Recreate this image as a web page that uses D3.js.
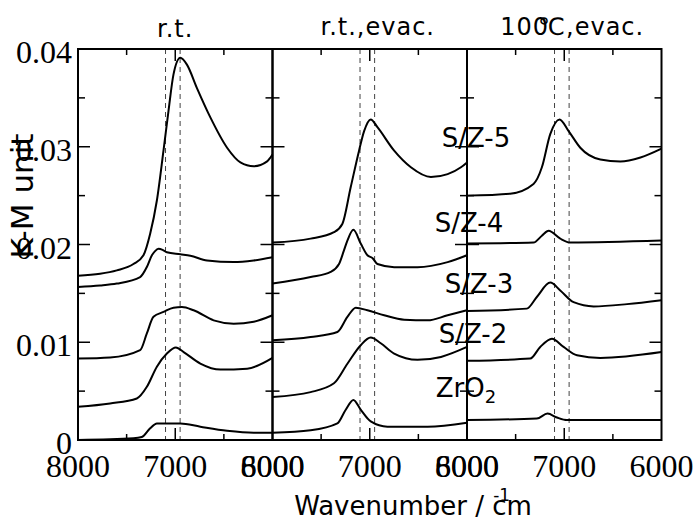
<!DOCTYPE html>
<meta charset="utf-8">
<style>
    body { margin: 0; background: #fff; }
    .curve { fill: none; stroke: #000; stroke-width: 2px; }
    .frame { stroke: #000; stroke-width: 2px; }
    .tick { stroke: #000; stroke-width: 1.5px; }
    .dash { stroke: #444; stroke-width: 1px; stroke-dasharray: 5,4; }
</style>
<svg width="696" height="520"></svg>
<script src="https://cdn.jsdelivr.net/npm/d3@7"></script>
<script>

    // wavenumber (cm-1), K-M value
    var rt_SZ5 = [[8000,0.0168],[7773,0.0170],[7601,0.01735],[7430,0.0180],[7327,0.0189],[7258,0.0211],[7189,0.0245],[7121,0.0296],[7069,0.0337],[7018,0.0374],[6948,0.0391],[6880,0.0384],[6777,0.0360],[6639,0.0330],[6467,0.0299],[6330,0.0284],[6193,0.0280],[6055,0.0285],[6021,0.0289],[6000,0.0292]];
    var rt_SZ4 = [[8000,0.01565],[7773,0.0158],[7601,0.0160],[7361,0.01667],[7292,0.0177],[7240,0.0189],[7210,0.0193],[7172,0.01956],[7130,0.01945],[7086,0.0192],[6948,0.0190],[6845,0.01885],[6673,0.01837],[6399,0.0182],[6193,0.01837],[6000,0.0187]];
    var rt_SZ3 = [[8000,0.00833],[7670,0.00844],[7361,0.0092],[7292,0.0109],[7224,0.0126],[7121,0.0131],[7018,0.01354],[6931,0.0136],[6811,0.01327],[6605,0.01224],[6399,0.0119],[6193,0.0121],[6000,0.01276]];
    var rt_SZ2 = [[8000,0.0034],[7670,0.00374],[7395,0.00425],[7292,0.00544],[7189,0.0075],[7086,0.00884],[6993,0.00946],[6914,0.0090],[6742,0.00782],[6536,0.0072],[6261,0.0073],[6000,0.0084]];
    var rt_ZrO2 = [[8000,0.0],[7430,0.00017],[7344,0.0003],[7258,0.0012],[7189,0.0017],[6948,0.0017],[6742,0.00136],[6467,0.00095],[6193,0.00075],[6000,0.00075]];

    var ev_SZ5 = [[8000,0.0202],[7608,0.0206],[7368,0.02126],[7282,0.0221],[7196,0.02585],[7110,0.0296],[7058,0.0316],[6990,0.0328],[6921,0.0320],[6749,0.0296],[6577,0.0279],[6371,0.0269],[6199,0.0272],[6062,0.0279],[6000,0.0284]];
    var ev_SZ4 = [[8000,0.0160],[7608,0.01667],[7402,0.0172],[7316,0.0180],[7265,0.0194],[7230,0.0204],[7168,0.0215],[7093,0.0201],[7024,0.0189],[6970,0.0186],[6921,0.0180],[6749,0.01768],[6509,0.01768],[6199,0.0182],[6000,0.0189]];
    var ev_SZ3 = [[8000,0.0102],[7608,0.01054],[7333,0.01105],[7230,0.0126],[7144,0.01354],[7024,0.01327],[6852,0.01276],[6646,0.0123],[6405,0.01224],[6199,0.01276],[6000,0.01327]];
    var ev_SZ2 = [[8000,0.0044],[7608,0.0049],[7368,0.0058],[7230,0.0078],[7093,0.0097],[6990,0.01048],[6887,0.0099],[6749,0.00884],[6509,0.0082],[6268,0.0085],[6000,0.00952]];
    var ev_ZrO2 = [[8000,0.00075],[7608,0.0010],[7333,0.0017],[7247,0.0031],[7168,0.0041],[7093,0.0031],[6990,0.0019],[6818,0.00136],[6405,0.00136],[6000,0.00177]];

    var hc_SZ5 = [[8000,0.0250],[7557,0.0252],[7316,0.0262],[7230,0.0279],[7144,0.0313],[7048,0.0328],[6955,0.0316],[6835,0.0299],[6629,0.0287],[6423,0.0285],[6216,0.0289],[6000,0.0298]];
    var hc_SZ4 = [[8000,0.0201],[7316,0.0202],[7230,0.0209],[7161,0.0214],[7041,0.0206],[6938,0.0202],[6000,0.0204]];
    var hc_SZ3 = [[8000,0.0132],[7385,0.01344],[7282,0.01463],[7144,0.0161],[7041,0.0153],[6904,0.0141],[6698,0.01367],[6354,0.0139],[6000,0.0143]];
    var hc_SZ2 = [[8000,0.0081],[7350,0.00833],[7247,0.00952],[7127,0.01037],[7007,0.00952],[6869,0.00867],[6629,0.0084],[6000,0.0090]];
    var hc_ZrO2 = [[8000,0.00204],[7282,0.0022],[7172,0.0027],[7075,0.0023],[6972,0.00204],[6000,0.00204]];

    var titles = ["r.t.", "r.t.,evac.", "100℃,evac."];
    var panelSeries = [
        [rt_SZ5, rt_SZ4, rt_SZ3, rt_SZ2, rt_ZrO2],
        [ev_SZ5, ev_SZ4, ev_SZ3, ev_SZ2, ev_ZrO2],
        [hc_SZ5, hc_SZ4, hc_SZ3, hc_SZ2, hc_ZrO2]
    ];
    var dashLines = [7100, 6950];
    var xTickLabels = [8000, 7000, 6000];
    var xTicks = [7500, 7000, 6500];
    var yTickLabels = [0, 0.01, 0.02, 0.03, 0.04];
    var yTicks = [0.005, 0.01, 0.015, 0.02, 0.025, 0.03, 0.035];
    var sampleNames = ["S/Z-5", "S/Z-4", "S/Z-3", "S/Z-2", "ZrO"];

    var SERIF = "'Liberation Serif', 'Times New Roman', Times, 'DejaVu Serif', serif";
    var SANS = "'DejaVu Sans', Verdana, sans-serif";

    draw();

    function draw() {
        var svg = d3.select("svg");
        var plotTop = 49, plotBottom = 440, left0 = 78, pw = 194.5;

        var y = d3.scaleLinear().domain([0, 0.04]).range([plotBottom, plotTop]);

        panelSeries.forEach(function (series, i) {
            var x0 = left0 + i * pw;
            var x = d3.scaleLinear().domain([8000, 6000]).range([x0, x0 + pw]);
            var g = svg.append("g");

            g.selectAll("line.dash")
                .data(dashLines)
                .enter().append("line")
                .attr("class", "dash")
                .attr("x1", function (d) { return x(d); })
                .attr("x2", function (d) { return x(d); })
                .attr("y1", plotTop)
                .attr("y2", plotBottom);

            var line = d3.line()
                .x(function (d) { return x(d[0]); })
                .y(function (d) { return y(d[1]); })
                .curve(d3.curveMonotoneX);

            g.selectAll("path.curve")
                .data(series)
                .enter().append("path")
                .attr("class", "curve")
                .attr("d", line);

            // frame
            g.append("rect")
                .attr("x", x0).attr("y", plotTop)
                .attr("width", pw).attr("height", plotBottom - plotTop)
                .attr("fill", "none")
                .attr("class", "frame");

            // x ticks, top and bottom, inward
            xTicks.forEach(function (t) {
                var len = t === 7000 ? 12 : 6;
                g.append("line").attr("class", "tick")
                    .attr("x1", x(t)).attr("x2", x(t))
                    .attr("y1", plotBottom).attr("y2", plotBottom - len);
                g.append("line").attr("class", "tick")
                    .attr("x1", x(t)).attr("x2", x(t))
                    .attr("y1", plotTop).attr("y2", plotTop + len);
            });

            // y ticks, both sides, inward
            yTicks.forEach(function (t) {
                var len = Math.round(t * 1000) % 10 === 0 ? 12 : 7;
                g.append("line").attr("class", "tick")
                    .attr("x1", x0).attr("x2", x0 + len)
                    .attr("y1", y(t)).attr("y2", y(t));
                g.append("line").attr("class", "tick")
                    .attr("x1", x0 + pw).attr("x2", x0 + pw - len)
                    .attr("y1", y(t)).attr("y2", y(t));
            });

            g.selectAll("text.xnum")
                .data(xTickLabels)
                .enter().append("text")
                .attr("class", "xnum")
                .attr("x", function (d) { return x(d); })
                .attr("y", 477)
                .attr("text-anchor", "middle")
                .style("font-family", SERIF)
                .style("font-size", "32px")
                .text(function (d) { return d; });

            var tt = g.append("text")
                .attr("x", x0 + pw / 2 + (i === 0 ? 0 : 8))
                .attr("y", i === 0 ? 37 : 35)
                .attr("text-anchor", "middle")
                .style("font-family", SANS)
                .style("font-size", "24px")
                .style("letter-spacing", "1px");
            if (i === 2) {
                tt.append("tspan").text("100");
                tt.append("tspan").attr("dx", -11).text("℃,evac.");
            } else {
                tt.text(titles[i]);
            }
        });

        // y tick labels (first panel only)
        svg.selectAll("text.ynum")
            .data(yTickLabels)
            .enter().append("text")
            .attr("class", "ynum")
            .attr("x", 72)
            .attr("y", function (d) { return y(d) + 14; })
            .attr("text-anchor", "end")
            .style("font-family", SERIF)
            .style("font-size", "32px")
            .text(function (d) { return d === 0 ? "0" : d.toFixed(2); });

        // sample labels
        var namePos = [[476, 147], [469, 232], [479, 293], [473, 343], [466, 397]];
        sampleNames.forEach(function (s, i) {
            var t = svg.append("text")
                .attr("x", namePos[i][0])
                .attr("y", namePos[i][1])
                .attr("text-anchor", "middle")
                .style("font-family", SANS)
                .style("font-size", "26px")
                .text(s);
            if (i === 4) {
                t.append("tspan")
                    .attr("dy", 6)
                    .style("font-size", "18px")
                    .text("2");
            }
        });

        // axis titles
        svg.append("text")
            .attr("transform", "translate(33,196) rotate(-90)")
            .attr("text-anchor", "middle")
            .style("font-family", SANS)
            .style("font-size", "31px")
            .text("K-M unit");

        var xl = svg.append("text")
            .attr("x", 413)
            .attr("y", 515)
            .attr("text-anchor", "middle")
            .style("font-family", SANS)
            .style("font-size", "26px")
            .text("Wavenumber / cm");
        var cpos = xl.node().getStartPositionOfChar(13);
        svg.append("text")
            .attr("x", cpos.x + 1)
            .attr("y", 501)
            .style("font-family", SANS)
            .style("font-size", "17px")
            .text("-1");
    }

</script>
